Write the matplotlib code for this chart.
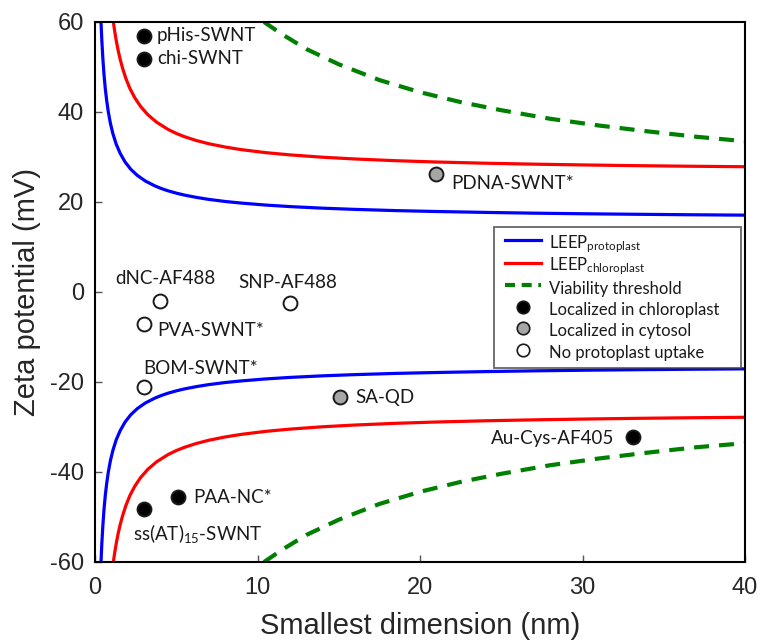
import matplotlib
matplotlib.use("Agg")
import matplotlib.pyplot as plt
from matplotlib.lines import Line2D
from matplotlib.legend_handler import HandlerLine2D

plt.rcParams['font.family'] = ['Lato', 'DejaVu Sans']
plt.rcParams['mathtext.fontset'] = 'custom'
plt.rcParams['mathtext.rm'] = 'Lato'
plt.rcParams['mathtext.it'] = 'Lato:italic'
plt.rcParams['mathtext.bf'] = 'Lato:bold'
plt.rcParams['axes.unicode_minus'] = False

# ---------------- data ----------------
# LEEP protoplast (upper / lower branches)
blue_up_x = [0.37, 0.42, 0.48, 0.55, 0.63, 0.72, 0.82, 0.95, 1.1, 1.3, 1.55, 1.85, 2.2, 2.6, 3.1, 3.7, 4.1,
             4.5, 5.0, 5.5, 6.2, 7, 8, 9, 10.5, 12, 14, 16, 18.5, 21, 24, 27, 30, 33, 36.5, 40]
blue_up_y = [60.0, 55.9, 52.1, 48.5, 45.3, 42.5, 40.0, 37.45, 35.2, 32.9, 30.8, 28.9, 27.28, 25.92, 24.66, 23.55,
             22.97, 22.48, 21.97, 21.54, 21.05, 20.58, 20.12, 19.76, 19.32, 18.98, 18.63, 18.36, 18.09, 17.89,
             17.69, 17.52, 17.39, 17.28, 17.17, 17.08]
blue_lo_x = [0.37, 0.42, 0.48, 0.55, 0.63, 0.72, 0.82, 0.95, 1.1, 1.3, 1.55, 1.85, 2.2, 2.6, 3.1, 3.7, 4.1,
             4.5, 5.0, 5.5, 6.2, 7, 8, 9, 10.5, 12, 14, 16, 18.5, 21, 24, 27, 30, 33, 36.5, 40]
blue_lo_y = [-60.0, -55.9, -52.1, -48.5, -45.3, -42.5, -40.0, -37.45, -35.2, -32.9, -30.8, -28.9, -27.28, -25.92,
             -24.66, -23.55, -22.97, -22.48, -21.97, -21.54, -21.05, -20.58, -20.12, -19.76, -19.32, -18.98,
             -18.63, -18.36, -18.09, -17.89, -17.69, -17.52, -17.39, -17.28, -17.17, -17.08]

# LEEP chloroplast
red_up_x = [1.12, 1.2, 1.3, 1.42, 1.55, 1.7, 1.9, 2.15, 2.45, 2.8, 3.25, 3.8, 4.5, 5.0, 5.5, 6.2, 7, 8, 9,
            10.5, 12, 14, 16, 18.5, 21, 24, 27, 30, 33, 36.5, 40]
red_up_y = [60.3, 58.2, 56.0, 53.75, 51.7, 49.7, 47.45, 45.2, 43.15, 41.26, 39.40, 37.71, 36.12, 35.24, 34.52,
            33.70, 32.95, 32.22, 31.64, 30.97, 30.47, 29.95, 29.56, 29.18, 28.89, 28.62, 28.41, 28.24, 28.09,
            27.95, 27.84]
red_lo_x = [1.12, 1.2, 1.3, 1.42, 1.55, 1.7, 1.9, 2.15, 2.45, 2.8, 3.25, 3.8, 4.5, 5.0, 5.5, 6.2, 7, 8, 9,
            10.5, 12, 14, 16, 18.5, 21, 24, 27, 30, 33, 36.5, 40]
red_lo_y = [-60.3, -58.2, -56.0, -53.75, -51.7, -49.7, -47.45, -45.2, -43.15, -41.26, -39.40, -37.71, -36.12,
            -35.24, -34.52, -33.70, -32.95, -32.22, -31.64, -30.97, -30.47, -29.95, -29.56, -29.18, -28.89,
            -28.62, -28.41, -28.24, -28.09, -27.95, -27.84]

# Viability threshold
green_up_x = [10.4, 11.5, 13, 15, 17.5, 20, 22.5, 25, 28, 31, 34, 37, 40]
green_up_y = [60.0, 57.3, 54.0, 50.6, 47.1, 44.4, 42.2, 40.4, 38.5, 37.0, 35.7, 34.5, 33.5]
green_lo_x = [10.4, 11.5, 13, 15, 17.5, 20, 22.5, 25, 28, 31, 34, 37, 40]
green_lo_y = [-60.0, -57.3, -54.0, -50.6, -47.1, -44.4, -42.2, -40.4, -38.5, -37.0, -35.7, -34.5, -33.6]

# Nanoparticles
np_names = ['pHis-SWNT', 'chi-SWNT', 'PDNA-SWNT*', 'dNC-AF488', 'SNP-AF488', 'PVA-SWNT*',
            'BOM-SWNT*', 'SA-QD', 'Au-Cys-AF405', 'PAA-NC*', r'ss(AT)$_\mathregular{15}$-SWNT']
np_x = [3.0, 3.0, 21.0, 4.0, 12.0, 3.0, 3.0, 15.1, 33.1, 5.1, 3.0]
np_y = [57.0, 51.8, 26.2, -2.0, -2.5, -7.0, -21.2, -23.4, -32.3, -45.6, -48.2]
np_class = ['chloro', 'chloro', 'cytosol', 'none', 'none', 'none', 'none', 'cytosol', 'chloro', 'chloro', 'chloro']

legend_labels = [r'LEEP$_\mathregular{protoplast}$', r'LEEP$_\mathregular{chloroplast}$', 'Viability threshold',
                 'Localized in chloroplast', 'Localized in cytosol', 'No protoplast uptake']

# ---------------- styles ----------------
face = {'chloro': 'black', 'cytosol': '#a6a6a6', 'none': 'white'}
lab_off = [(9.5, 0), (9.5, 0), (11, -7), (3.6, 16.5), (-1.3, 14.8), (9.6, -4.8),
           (-0.7, 13.7), (11, -0.5), (-13.7, -0.5), (11.2, 0), (-8, -17.5)]
lab_ha = ['left', 'left', 'left', 'center', 'center', 'left', 'left', 'left', 'right', 'left', 'left']

fig = plt.figure(figsize=(7.62, 6.43), dpi=100)
ax = fig.add_axes([95/762, 1-562/643, 650/762, 540/643])

blue = '#0000ff'
red = '#ff0000'
green = '#008000'
lw = 2.3
for xs, ys, c in [(blue_up_x, blue_up_y, blue), (blue_lo_x, blue_lo_y, blue),
                  (red_up_x, red_up_y, red), (red_lo_x, red_lo_y, red)]:
    ax.plot(xs, ys, color=c, lw=lw, solid_joinstyle='round', solid_capstyle='butt')
ax.plot(green_up_x, green_up_y, color=green, lw=3.0, dashes=(3.6, 2.4))
ax.plot(green_lo_x, green_lo_y, color=green, lw=3.0, dashes=(3.6, 2.4))

for i in range(len(np_x)):
    ax.plot(np_x[i], np_y[i], 'o', ms=10, mfc=face[np_class[i]], mec='#1a1a1a', mew=1.4, zorder=5)
    ax.annotate(np_names[i], (np_x[i], np_y[i]), xytext=lab_off[i], textcoords='offset points',
                ha=lab_ha[i], va='center', fontsize=13.5, color='#1a1a1a')

ax.set_xlim(0, 40)
ax.set_ylim(-60, 60)
ax.set_xticks([0, 10, 20, 30, 40])
ax.set_yticks([-60, -40, -20, 0, 20, 40, 60])
ax.tick_params(direction='in', length=5, width=1, color='#555555', labelsize=17,
               labelcolor='#262626', top=False, right=False)
ax.tick_params(axis='x', pad=11)
ax.tick_params(axis='y', pad=8)
for lab in ax.get_xticklabels() + ax.get_yticklabels():
    lab.set_family('Liberation Sans')
for s in ax.spines.values():
    s.set_linewidth(1.5)
    s.set_color('black')

ax.set_xlabel('Smallest dimension (nm)', fontsize=21, family='Liberation Sans', color='#262626')
ax.set_ylabel('Zeta potential (mV)', fontsize=21, family='Liberation Sans', color='#262626')
ax.xaxis.set_label_coords(0.5, -0.093)
ax.yaxis.set_label_coords(-0.083, 0.5)

handles = [
    Line2D([], [], color=blue, lw=lw),
    Line2D([], [], color=red, lw=lw),
    Line2D([], [], color=green, lw=3.0, dashes=(2.4, 1.6)),
    Line2D([], [], ls='none', marker='o', ms=9, mfc='black', mec='#1a1a1a', mew=1.2),
    Line2D([], [], ls='none', marker='o', ms=9, mfc='#a6a6a6', mec='#1a1a1a', mew=1.2),
    Line2D([], [], ls='none', marker='o', ms=9, mfc='white', mec='#1a1a1a', mew=1.2),
]
leg = ax.legend(handles, legend_labels, loc='upper left',
                bbox_to_anchor=(0.6145, 0.0, 0.3795, 0.621), mode='expand',
                fontsize=12, frameon=True, fancybox=False, edgecolor='#404040',
                handlelength=2.52, handleheight=1.6, handletextpad=0.46, borderpad=0.3,
                labelspacing=0.0, borderaxespad=0,
                handler_map={Line2D: HandlerLine2D(xpad=0.36)})
leg.get_frame().set_linewidth(1.3)
for t in leg.get_texts():
    t.set_color('#1a1a1a')

fig.savefig('out.png', dpi=100)
